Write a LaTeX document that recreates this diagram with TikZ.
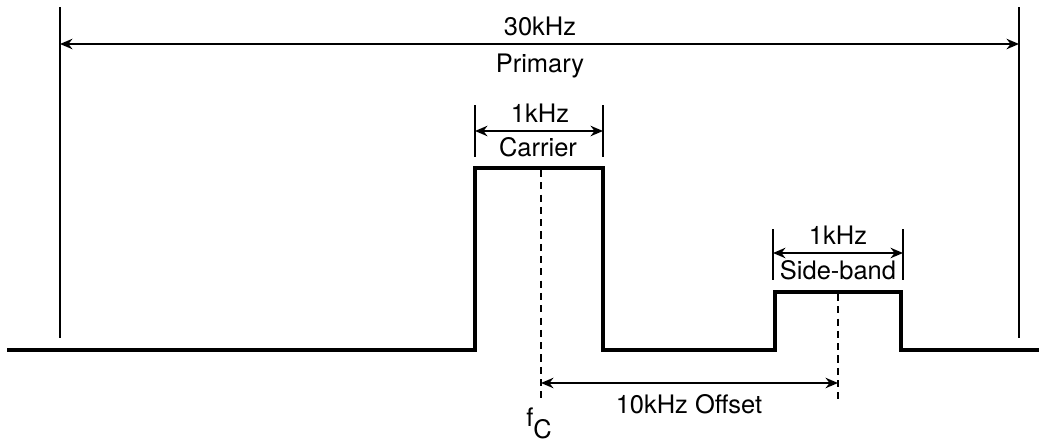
\documentclass[tikz,border=0pt]{standalone}
\usepackage{fontspec}
\setmainfont{TeX Gyre Heros}
\usetikzlibrary{arrows.meta}

\begin{document}
\begin{tikzpicture}[x=0.02cm,y=-0.02cm,
  font=\fontsize{14.5}{17}\selectfont,
  signal/.style={line width=2.3pt,line join=miter},
  limit/.style={line width=1.1pt},
  marker/.style={line width=0.7pt,dash pattern=on 4pt off 3pt},
  span/.style={{Stealth[length=2.5mm,width=2.1mm]}-{Stealth[length=2.5mm,width=2.1mm]},line width=0.9pt},
  label/.style={inner sep=0pt,anchor=base}]
\useasboundingbox (0,0) rectangle (1039,443);
% signal outline
\coordinate (start) at (7,350);
\coordinate (c1) at (475,350);\coordinate (c2) at (475,168);
\coordinate (c3) at (603,168);\coordinate (c4) at (603,350);
\coordinate (s1) at (775,350);\coordinate (s2) at (775,292);
\coordinate (s3) at (901,292);\coordinate (s4) at (901,350);
\coordinate (stop) at (1039,350);
\draw[signal](start)--(c1)--(c2)--(c3)--(c4)--(s1)--(s2)--(s3)--(s4)--(stop);
% primary span
\coordinate (pl top) at (60,7);\coordinate (pl bot) at (60,338);
\coordinate (pr top) at (1019,7);\coordinate (pr bot) at (1019,338);
\draw[limit](pl top)--(pl bot);\draw[limit](pr top)--(pr bot);
\coordinate (pa) at (60,44);\coordinate (pb) at (1019,44);
\draw[span](pa)--(pb);
\node[label](primbw) at (540,35){30kHz};
\node[label](primary) at (540,72){Primary};
% carrier span
\coordinate (cl top) at (475,105);\coordinate (cl bot) at (475,157);
\coordinate (cr top) at (603,105);\coordinate (cr bot) at (603,157);
\draw[limit](cl top)--(cl bot);\draw[limit](cr top)--(cr bot);
\coordinate (ca) at (475,131);\coordinate (cb) at (603,131);
\draw[span](ca)--(cb);
\node[label](carbw) at (540,122){1kHz};
\node[label](carrier) at (538,156){Carrier};
% side-band span
\coordinate (sl top) at (773,229);\coordinate (sl bot) at (773,280);
\coordinate (sr top) at (903,229);\coordinate (sr bot) at (903,280);
\draw[limit](sl top)--(sl bot);\draw[limit](sr top)--(sr bot);
\coordinate (sa) at (773,253);\coordinate (sb) at (903,253);
\draw[span](sa)--(sb);
\node[label](sidebw) at (838,244){1kHz};
\node[label](sideband) at (838,279){Side-band};
% offset
\coordinate (fc top) at (541,170);\coordinate (fc bot) at (541,402);
\coordinate (fs top) at (838,294);\coordinate (fs bot) at (838,402);
\draw[marker](fc top)--(fc bot);\draw[marker](fs top)--(fs bot);
\coordinate (oa) at (541,383);\coordinate (ob) at (838,383);
\draw[span](oa)--(ob);
\node[label](offset) at (689,413){10kHz Offset};
\node[label,anchor=base west](fc) at (526,426){f\raisebox{-0.24cm}{C}};
\end{tikzpicture}
\end{document}
